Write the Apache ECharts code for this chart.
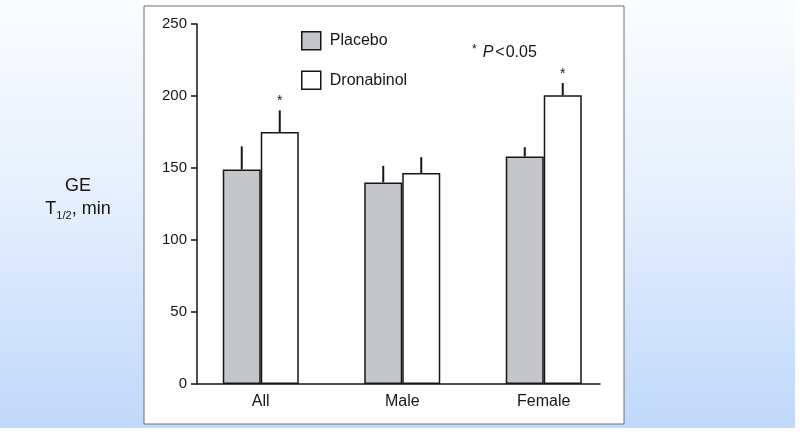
<!DOCTYPE html>
<html>
<head>
<meta charset="utf-8">
<script src="https://cdn.jsdelivr.net/npm/echarts@6/dist/echarts.min.js"></script>
<style>
  html, body { margin: 0; padding: 0; background: #ffffff; }
  #chart { width: 800px; height: 436px; }
</style>
</head>
<body>
<div id="chart"></div>
<script>
// ---- data ----
const categories = ['All', 'Male', 'Female'];
const seriesNames = ['Placebo', 'Dronabinol'];
const placebo = [149, 140, 158];
const dronabinol = [175, 146.5, 200.5];
const placeboErrTop = [165, 151.5, 164.5];
const dronabinolErrTop = [190, 157.5, 209];
const placeboSig = [false, false, false];
const dronabinolSig = [true, false, true];
const yMin = 0, yMax = 250, yInterval = 50;

// ---- styles ----
const FONT = '"Liberation Sans", Arial, Helvetica, sans-serif';
const INK = '#161616';
const BAR_W = 38;
const placeboColor = '#c5c6ca';
const dronabinolColor = '#ffffff';

const chart = echarts.init(document.getElementById('chart'), null, { renderer: 'canvas' });

function errData(vals, tops, sigs, side) {
  return vals.map((v, i) => [i, v, tops[i], side, sigs[i] ? 1 : 0]);
}

const errSeries = {
  type: 'custom',
  xAxisIndex: 0, yAxisIndex: 0,
  z: 5,
  silent: true,
  renderItem: function (params, api) {
    const base = api.coord([api.value(0), api.value(1)]);
    const top = api.coord([api.value(0), api.value(2)]);
    const x = base[0] + api.value(3) * BAR_W / 2;
    const children = [{
      type: 'line',
      shape: { x1: x, y1: base[1], x2: x, y2: top[1] },
      style: { stroke: INK, lineWidth: 2 }
    }];
    if (api.value(4)) {
      children.push({
        type: 'text',
        style: { x: x, y: top[1] - 2, text: '*', fill: INK, font: '14px ' + FONT, align: 'center', verticalAlign: 'bottom' }
      });
    }
    return { type: 'group', children: children };
  },
  encode: { x: 0, y: 1 }
};

const option = {
  animation: false,
  backgroundColor: '#ffffff',
  graphic: [
    {
      type: 'rect', z: -10, silent: true,
      shape: { x: 0, y: 0, width: 795, height: 428 },
      style: {
        fill: new echarts.graphic.LinearGradient(0, 0, 0, 1, [
          { offset: 0, color: '#fbfdff' },
          { offset: 0.5, color: '#e3eefd' },
          { offset: 1, color: '#bfd8fb' }
        ])
      }
    },
    {
      type: 'rect', z: -9, silent: true,
      shape: { x: 144, y: 6, width: 480, height: 418 },
      style: { fill: '#ffffff', stroke: '#6e6e6e', lineWidth: 1 }
    },
    {
      type: 'text', z: 10, silent: true,
      x: 78, y: 198,
      style: {
        text: '{a|GE}\n{a|T}{s|1/2}{a|, min}',
        align: 'center', verticalAlign: 'middle',
        fill: INK,
        rich: {
          a: { fontSize: 18, fontFamily: FONT, lineHeight: 23, fill: INK, color: INK },
          s: { fontSize: 11, fontFamily: FONT, lineHeight: 23, fill: INK, color: INK, verticalAlign: 'bottom', padding: [8, 0, 0, 0] }
        }
      }
    },
    {
      type: 'text', z: 10, silent: true,
      x: 472, y: 53,
      style: {
        text: '{st|*}{i|P}{lt|<}{n|0.05}',
        align: 'left', verticalAlign: 'middle',
        fill: INK,
        rich: {
          st: { fontSize: 12, fontFamily: FONT, fill: INK, color: INK, verticalAlign: 'top', padding: [0, 6, 6, 0] },
          i: { fontSize: 16, fontFamily: FONT, fontStyle: 'italic', fill: INK, color: INK },
          lt: { fontSize: 16, fontFamily: FONT, fill: INK, color: INK, padding: [0, 1, 0, 2] },
          n: { fontSize: 16, fontFamily: FONT, fill: INK, color: INK }
        }
      }
    }
  ],
  legend: {
    orient: 'vertical',
    left: 301, top: 31,
    padding: 0,
    itemWidth: 19, itemHeight: 18, itemGap: 20,
    icon: 'rect',
    data: [
      { name: seriesNames[0], itemStyle: { color: placeboColor, borderColor: INK, borderWidth: 1.5 } },
      { name: seriesNames[1], itemStyle: { color: dronabinolColor, borderColor: INK, borderWidth: 1.5 } }
    ],
    textStyle: { fontSize: 16, fontFamily: FONT, color: INK, padding: [0, 0, 0, 4] },
    selectedMode: false
  },
  grid: [
    { left: 190, right: 185.5, top: 24, bottom: 52 },
    { left: 197, right: 200, top: 24, bottom: 52 }
  ],
  xAxis: [
    {
      type: 'category', gridIndex: 0, data: categories,
      axisLine: { show: false }, axisTick: { show: false },
      axisLabel: { fontSize: 16, fontFamily: FONT, color: INK, margin: 10 },
      splitLine: { show: false }
    },
    {
      type: 'value', gridIndex: 1, min: 0, max: 1,
      axisLine: { show: true, lineStyle: { color: INK, width: 1.5 } },
      axisTick: { show: false }, axisLabel: { show: false }, splitLine: { show: false }
    }
  ],
  yAxis: [
    {
      type: 'value', gridIndex: 0, min: yMin, max: yMax, interval: yInterval,
      show: false, splitLine: { show: false }
    },
    {
      type: 'value', gridIndex: 1, min: yMin, max: yMax, interval: yInterval,
      axisLine: { show: true, lineStyle: { color: INK, width: 1.5 } },
      axisTick: { show: true, length: 6, inside: false, lineStyle: { color: INK, width: 1.5 } },
      axisLabel: { fontSize: 15, fontFamily: FONT, color: INK, margin: 10 },
      splitLine: { show: false }
    }
  ],
  series: [
    {
      name: seriesNames[0], type: 'bar', xAxisIndex: 0, yAxisIndex: 0,
      data: placebo, barWidth: BAR_W, barGap: '0%',
      itemStyle: { color: placeboColor, borderColor: INK, borderWidth: 1.5 }
    },
    {
      name: seriesNames[1], type: 'bar', xAxisIndex: 0, yAxisIndex: 0,
      data: dronabinol, barWidth: BAR_W, barGap: '0%',
      itemStyle: { color: dronabinolColor, borderColor: INK, borderWidth: 1.5 }
    },
    Object.assign({ name: 'errP', data: errData(placebo, placeboErrTop, placeboSig, -1) }, errSeries),
    Object.assign({ name: 'errD', data: errData(dronabinol, dronabinolErrTop, dronabinolSig, 1) }, errSeries)
  ]
};

chart.setOption(option);
</script>
</body>
</html>
